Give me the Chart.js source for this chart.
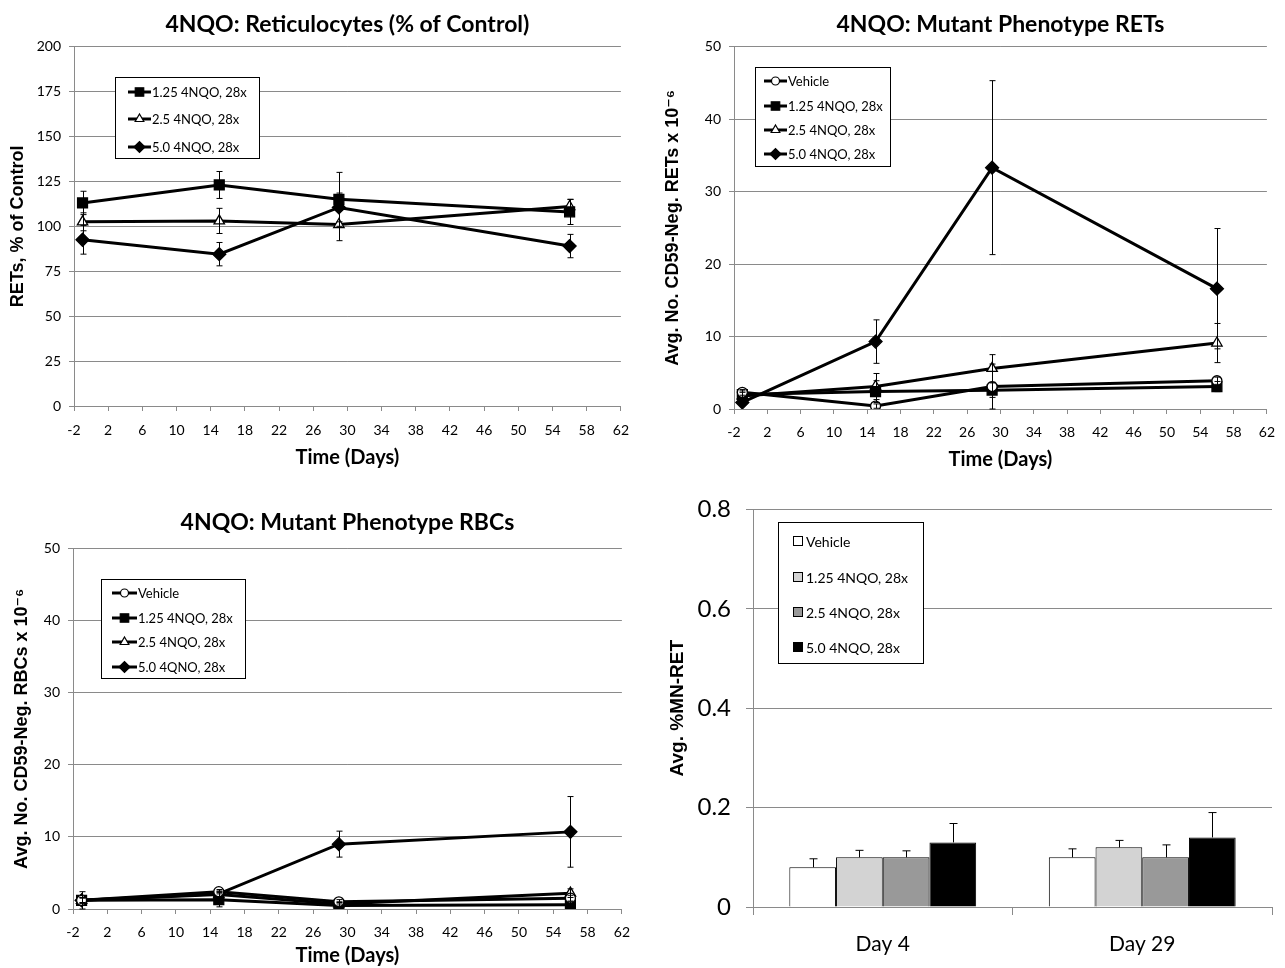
<!DOCTYPE html>
<html>
<head>
<meta charset="utf-8">
<script src="https://cdn.jsdelivr.net/npm/chart.js@4.4.1/dist/chart.umd.min.js"></script>
<style>
  body { margin: 0; background: #fff; }
  canvas { position: absolute; }
</style>
</head>
<body>
<canvas id="retChart" width="640" height="480" style="left:0;top:0"></canvas>
<canvas id="mutRetChart" width="645" height="480" style="left:640px;top:0"></canvas>
<canvas id="mutRbcChart" width="640" height="488" style="left:0;top:480px"></canvas>
<canvas id="mnChart" width="645" height="488" style="left:640px;top:480px"></canvas>
<script>
// sampling days (x values)
const days = [-1, 15, 29, 56];

// RETs, % of control
const ret125 = [113, 123, 115, 108];
const ret125Err = [6.5, 7.5, 15, 7];
const ret25 = [102.5, 103, 101, 111];
const ret25Err = [5, 7, 9, 4];
const ret50 = [92.5, 84.5, 110.5, 89];
const ret50Err = [8, 6.5, 8, 6.5];

// mutant phenotype RETs (x 10^-6)
const mutRetVeh = [2.3, 0.4, 3.1, 3.9];
const mutRetVehErr = [0.4, 0.3, 3.1, 0.5];
const mutRet125 = [2.0, 2.4, 2.6, 3.1];
const mutRet125Err = [0.5, 1.5, 1.0, 0.7];
const mutRet25 = [1.8, 3.1, 5.6, 9.1];
const mutRet25Err = [0.5, 1.8, 1.9, 2.7];
const mutRet50 = [0.9, 9.3, 33.3, 16.6];
const mutRet50Err = [0.4, 3.0, 12.0, 8.3];

// mutant phenotype RBCs (x 10^-6)
const mutRbcVeh = [1.2, 2.4, 1.0, 1.5];
const mutRbcVehErr = [0.3, 0.3, 0.3, 0.4];
const mutRbc125 = [1.2, 1.3, 0.5, 0.6];
const mutRbc125Err = [1.2, 1.0, 0.4, 0.4];
const mutRbc25 = [1.2, 2.0, 0.7, 2.2];
const mutRbc25Err = [0.4, 0.4, 0.3, 0.6];
const mutRbc50 = [1.2, 2.1, 9.0, 10.7];
const mutRbc50Err = [0.4, 0.4, 1.8, 4.9];

// %MN-RET bars
const mnDays = ['Day 4', 'Day 29'];
const mnVeh = [0.08, 0.10];
const mnVehErr = [0.017, 0.017];
const mn125 = [0.10, 0.12];
const mn125Err = [0.014, 0.014];
const mn25 = [0.10, 0.10];
const mn25Err = [0.013, 0.025];
const mn50 = [0.13, 0.14];
const mn50Err = [0.038, 0.05];

const calibri = "Lato, 'Open Sans', sans-serif";
const arial = "'Liberation Sans', Arial, 'DejaVu Sans', sans-serif";
const gridGray = '#8a8a8a';

function pts(vals) {
    return vals.map((v, i) => ({ x: days[i], y: v }));
}

// vertical error bars with caps, drawn on the chart's own y scale
const errorBars = {
    id: 'errorBars',
    afterDatasetsDraw(chart, args, opts) {
        const ctx = chart.ctx;
        const yScale = chart.scales.y;
        ctx.save();
        ctx.strokeStyle = '#000';
        ctx.lineWidth = 1;
        chart.data.datasets.forEach((ds, i) => {
            if (!ds.errors) return;
            const meta = chart.getDatasetMeta(i);
            meta.data.forEach((el, j) => {
                const raw = ds.data[j];
                const v = typeof raw === 'object' ? raw.y : raw;
                const e = ds.errors[j];
                const x = Math.round(el.x) + 0.5;
                const top = yScale.getPixelForValue(v + e);
                const bot = opts.upperOnly ? el.y : yScale.getPixelForValue(Math.max(0, v - e));
                const cap = opts.cap || 3;
                ctx.beginPath();
                ctx.moveTo(x, top);
                ctx.lineTo(x, bot);
                ctx.moveTo(x - cap, top);
                ctx.lineTo(x + cap, top);
                if (!opts.upperOnly) {
                    ctx.moveTo(x - cap, bot);
                    ctx.lineTo(x + cap, bot);
                }
                ctx.stroke();
            });
        });
        ctx.restore();
    }
};

// Excel style boxed legend placed inside the plot
const boxLegend = {
    id: 'boxLegend',
    afterDraw(chart, args, opts) {
        if (!opts.box) return;
        const ctx = chart.ctx;
        const [bx, by, bw, bh] = opts.box;
        ctx.save();
        ctx.fillStyle = '#fff';
        ctx.fillRect(bx, by, bw, bh);
        ctx.strokeStyle = '#000';
        ctx.lineWidth = 1;
        ctx.strokeRect(bx + 0.5, by + 0.5, bw, bh);
        ctx.font = opts.font;
        ctx.textBaseline = 'middle';
        chart.data.datasets.forEach((ds, i) => {
            const y = opts.rows[i];
            if (opts.swatch) {
                ctx.fillStyle = ds.backgroundColor;
                ctx.fillRect(opts.swatch, y - 5, 10, 10);
                ctx.strokeStyle = '#000';
                ctx.strokeRect(opts.swatch + 0.5, y - 4.5, 9, 9);
            } else {
                const [x0, x1] = opts.line;
                ctx.strokeStyle = '#000';
                ctx.lineWidth = 3;
                ctx.beginPath();
                ctx.moveTo(x0, y);
                ctx.lineTo(x1, y);
                ctx.stroke();
                ctx.fillStyle = ds.pointBackgroundColor;
                ctx.lineWidth = 1.2;
                Chart.helpers.drawPoint(ctx, {
                    pointStyle: ds.pointStyle,
                    radius: ds.pointRadius - 1,
                    rotation: 0,
                    borderWidth: 1.2
                }, (x0 + x1) / 2, y);
            }
            ctx.fillStyle = '#000';
            ctx.fillText(ds.label, opts.textX, y + 1);
        });
        ctx.restore();
    }
};

function series(label, vals, errs, style, radius, fill) {
    return {
        label: label,
        data: pts(vals),
        errors: errs,
        borderColor: '#000',
        borderWidth: 3,
        pointStyle: style,
        pointRadius: radius,
        pointBackgroundColor: fill,
        pointBorderColor: '#000',
        pointBorderWidth: 1.3
    };
}

function lineOptions(cfg) {
    return {
        responsive: false,
        animation: false,
        layout: { padding: { left: 0, right: cfg.right, top: 0, bottom: 0 } },
        plugins: {
            legend: { display: false },
            tooltip: { enabled: false },
            title: {
                display: true,
                text: cfg.title,
                fullSize: false,
                color: '#000',
                font: { family: calibri, size: 23, weight: 'bold' },
                padding: { top: cfg.titleTop, bottom: cfg.titleBottom }
            },
            errorBars: { cap: 3 },
            boxLegend: cfg.legend
        },
        scales: {
            x: {
                type: 'linear',
                min: -2,
                max: 62,
                afterFit(scale) { scale.height = cfg.xHeight; },
                ticks: { stepSize: 4, color: '#000', font: { family: calibri, size: 14 }, padding: cfg.xPad },
                grid: { drawOnChartArea: false, drawTicks: true, tickLength: 5, color: gridGray },
                border: { color: gridGray },
                title: {
                    display: true,
                    text: 'Time (Days)',
                    color: '#000',
                    font: { family: calibri, size: 20, weight: 'bold' },
                    padding: { top: 0, bottom: cfg.xTitleBottom }
                }
            },
            y: {
                min: 0,
                max: cfg.yMax,
                afterFit(scale) { scale.width = cfg.yWidth; },
                ticks: { stepSize: cfg.yStep, color: '#000', font: { family: calibri, size: 14 }, padding: 8 },
                grid: { color: gridGray, tickLength: 5 },
                border: { color: gridGray },
                title: {
                    display: true,
                    text: cfg.yTitle,
                    color: '#000',
                    font: { family: arial, size: 18, weight: 'bold' },
                    padding: { top: cfg.yTitleTop, bottom: 0 }
                }
            }
        }
    };
}

new Chart(document.getElementById('retChart').getContext('2d'), {
    type: 'line',
    data: {
        datasets: [
            series('1.25 4NQO, 28x', ret125, ret125Err, 'rect', 7, '#000'),
            series('2.5 4NQO, 28x', ret25, ret25Err, 'triangle', 6, '#fff'),
            series('5.0 4NQO, 28x', ret50, ret50Err, 'rectRot', 6.5, '#000')
        ]
    },
    options: lineOptions({
        title: '4NQO: Reticulocytes (% of Control)',
        titleTop: 11, titleBottom: 8, right: 16,
        xHeight: 74, xPad: 11, xTitleBottom: 10,
        yMax: 200, yStep: 25, yWidth: 74, yTitleTop: 7,
        yTitle: 'RETs, % of Control',
        legend: {
            box: [115, 77, 144, 81], rows: [92, 119, 147],
            line: [128, 151], textX: 152, font: '13px ' + calibri
        }
    }),
    plugins: [errorBars, boxLegend]
});

new Chart(document.getElementById('mutRetChart').getContext('2d'), {
    type: 'line',
    data: {
        datasets: [
            series('Vehicle', mutRetVeh, mutRetVehErr, 'circle', 5, '#fff'),
            series('1.25 4NQO, 28x', mutRet125, mutRet125Err, 'rect', 7, '#000'),
            series('2.5 4NQO, 28x', mutRet25, mutRet25Err, 'triangle', 6, '#fff'),
            series('5.0 4NQO, 28x', mutRet50, mutRet50Err, 'rectRot', 6.5, '#000')
        ]
    },
    options: lineOptions({
        title: '4NQO: Mutant Phenotype RETs',
        titleTop: 11, titleBottom: 8, right: 7,
        xHeight: 71, xPad: 10, xTitleBottom: 8,
        yMax: 50, yStep: 10, yWidth: 94, yTitleTop: 22,
        yTitle: 'Avg. No. CD59-Neg. RETs x 10\u207B\u2076',
        legend: {
            box: [115, 67, 135, 99], rows: [81, 106, 130, 154],
            line: [124, 147], textX: 148, font: '13px ' + calibri
        }
    }),
    plugins: [errorBars, boxLegend]
});

new Chart(document.getElementById('mutRbcChart').getContext('2d'), {
    type: 'line',
    data: {
        datasets: [
            series('Vehicle', mutRbcVeh, mutRbcVehErr, 'circle', 5, '#fff'),
            series('1.25 4NQO, 28x', mutRbc125, mutRbc125Err, 'rect', 7, '#000'),
            series('2.5 4NQO, 28x', mutRbc25, mutRbc25Err, 'triangle', 6, '#fff'),
            series('5.0 4QNO, 28x', mutRbc50, mutRbc50Err, 'rectRot', 6.5, '#000')
        ]
    },
    options: lineOptions({
        title: '4NQO: Mutant Phenotype RBCs',
        titleTop: 29, titleBottom: 12, right: 17,
        xHeight: 59, xPad: 10, xTitleBottom: 0,
        yMax: 50, yStep: 10, yWidth: 73, yTitleTop: 11,
        yTitle: 'Avg. No. CD59-Neg. RBCs x 10\u207B\u2076',
        legend: {
            box: [101, 99, 144, 99], rows: [113, 138, 162, 187],
            line: [112, 137], textX: 138, font: '13px ' + calibri
        }
    }),
    plugins: [errorBars, boxLegend]
});

function bars(label, vals, errs, color) {
    return {
        label: label,
        data: vals,
        errors: errs,
        backgroundColor: color,
        borderColor: '#000',
        borderWidth: 1,
        categoryPercentage: 0.72,
        barPercentage: 1.0
    };
}

new Chart(document.getElementById('mnChart').getContext('2d'), {
    type: 'bar',
    data: {
        labels: mnDays,
        datasets: [
            bars('Vehicle', mnVeh, mnVehErr, '#ffffff'),
            bars('1.25 4NQO, 28x', mn125, mn125Err, '#d3d3d3'),
            bars('2.5 4NQO, 28x', mn25, mn25Err, '#999999'),
            bars('5.0 4NQO, 28x', mn50, mn50Err, '#000000')
        ]
    },
    options: {
        responsive: false,
        animation: false,
        layout: { padding: { left: 0, right: 13, top: 25, bottom: 0 } },
        plugins: {
            legend: { display: false },
            tooltip: { enabled: false },
            errorBars: { upperOnly: true, cap: 4 },
            boxLegend: {
                box: [138, 42, 145, 141], rows: [61, 97, 132, 167],
                swatch: 153, textX: 166, font: '14px ' + calibri
            }
        },
        scales: {
            x: {
                offset: true,
                afterFit(scale) { scale.height = 61; },
                ticks: { color: '#000', font: { family: calibri, size: 21 }, padding: 17 },
                grid: { offset: true, drawOnChartArea: false, drawTicks: true, tickLength: 8, color: gridGray },
                border: { color: gridGray }
            },
            y: {
                min: 0,
                max: 0.8,
                afterFit(scale) { scale.width = 113; },
                ticks: { stepSize: 0.2, color: '#000', font: { family: calibri, size: 24 }, padding: 15 },
                grid: { color: gridGray, tickLength: 7 },
                border: { color: gridGray },
                title: {
                    display: true,
                    text: 'Avg. %MN-RET',
                    color: '#000',
                    font: { family: arial, size: 19, weight: 'bold' },
                    padding: { top: 26, bottom: 0 }
                }
            }
        }
    },
    plugins: [errorBars, boxLegend]
});
</script>
</body>
</html>
